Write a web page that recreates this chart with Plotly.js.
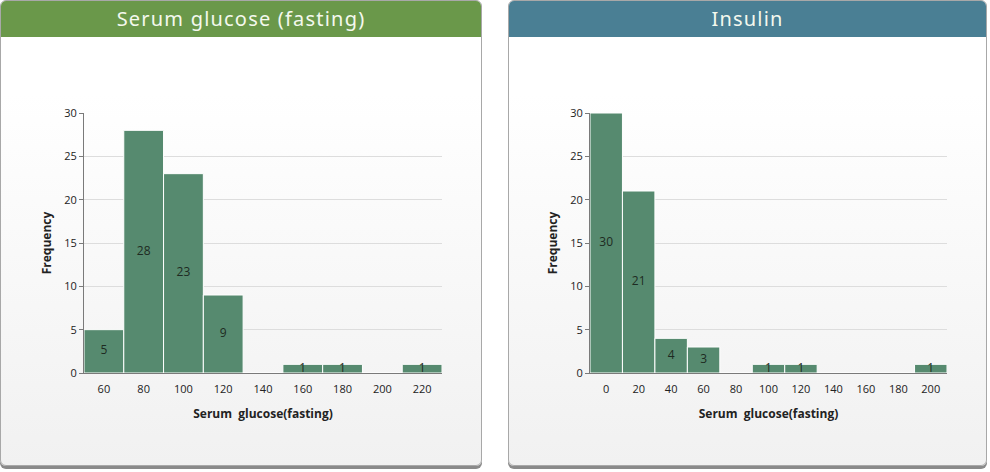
<!DOCTYPE html>
<html>
<head>
<meta charset="utf-8">
<script src="https://cdn.plot.ly/plotly-3.0.1.min.js"></script>
<style>
  html, body { margin:0; padding:0; background:#ffffff; width:990px; height:472px; overflow:hidden; }
  .panel { position:absolute; top:0; height:466px; border:1px solid #a8a8a8; border-radius:6px;
           background:linear-gradient(to bottom, #ffffff 0%, #ffffff 20%, #f1f1f1 100%);
           box-shadow:0 3px 0 #8a8a8a; overflow:hidden; box-sizing:border-box; }
  .head { position:absolute; left:0; top:0; right:0; height:36px; color:#f4f8ee;
          font-family:"Noto Sans", "DejaVu Sans", sans-serif; font-size:20px; letter-spacing:1.2px;
          text-align:center; line-height:36px; }
  .chart { position:absolute; left:0; top:0; }
</style>
</head>
<body>
<div class="panel" id="p1" style="left:0; width:482px;">
  <div class="head" style="background:#6a984a;">Serum glucose (fasting)</div>
  <div class="chart" id="c1"></div>
</div>
<div class="panel" id="p2" style="left:508px; width:479px;">
  <div class="head" style="background:#4a7f94;">Insulin</div>
  <div class="chart" id="c2"></div>
</div>
<script>
// Serum glucose (fasting): bin centers and counts (bin width 20)
const glucoseBins = [60, 80, 100, 120, 140, 160, 180, 200, 220];
const glucoseCounts = [5, 28, 23, 9, 0, 1, 1, 0, 1];
// Insulin: bin centers and counts (bin width 20)
const insulinBins = [0, 20, 40, 60, 80, 100, 120, 140, 160, 180, 200];
const insulinCounts = [30, 21, 4, 3, 0, 1, 1, 0, 0, 0, 1];
const binWidth = 20;
const yTicks = [0, 5, 10, 15, 20, 25, 30];
const xTitle = "Serum&nbsp;&nbsp;glucose(fasting)";
const yTitle = "Frequency";

const barColor = "#568a6f";
const fontFam = "'Open Sans', 'Noto Sans', sans-serif";

function makeChart(id, bins, counts, width, height, margin, xrange) {
  const bar = {
    type: "bar", x: bins, y: counts, width: binWidth,
    marker: { color: barColor, line: { color: "#ffffff", width: 1 } },
    hoverinfo: "skip", showlegend: false
  };
  const labels = {
    type: "scatter", mode: "text",
    x: bins, y: counts.map(c => c / 2),
    text: counts.map(c => c > 0 ? String(c) : ""),
    textfont: { family: fontFam, size: 12, color: "#1e2a22" },
    hoverinfo: "skip", showlegend: false, cliponaxis: false
  };
  const layout = {
    width: width, height: height,
    margin: margin,
    paper_bgcolor: "rgba(0,0,0,0)", plot_bgcolor: "rgba(0,0,0,0)",
    font: { family: fontFam, size: 11, color: "#222" },
    bargap: 0,
    xaxis: {
      range: xrange, tickvals: bins, ticktext: bins.map(String),
      showgrid: false, zeroline: false,
      showline: true, linecolor: "#7a7a7a", linewidth: 1,
      ticks: "", ticklabelstandoff: 6, tickfont: { size: 11, color: "#222" },
      title: { text: xTitle, font: { size: 12, color: "#222", weight: "bold" }, standoff: 14 },
      fixedrange: true
    },
    yaxis: {
      range: [0, 30], tickvals: yTicks,
      showgrid: true, gridcolor: "#dddddd", gridwidth: 1,
      zeroline: false, showline: true, linecolor: "#7a7a7a", linewidth: 1,
      ticks: "outside", ticklen: 4, tickcolor: "#7a7a7a",
      tickfont: { size: 11, color: "#222" },
      title: { text: yTitle, font: { size: 12, color: "#222", weight: "bold" }, standoff: 10 },
      fixedrange: true
    }
  };
  Plotly.newPlot(id, [bar, labels], layout, { displayModeBar: false, staticPlot: true });
}

makeChart("c1", glucoseBins, glucoseCounts, 482, 466, { l: 83, r: 41, t: 112, b: 94 }, [50, 230]);
makeChart("c2", insulinBins, insulinCounts, 479, 466, { l: 81, r: 41, t: 112, b: 94 }, [-10, 210]);
</script>
</body>
</html>
